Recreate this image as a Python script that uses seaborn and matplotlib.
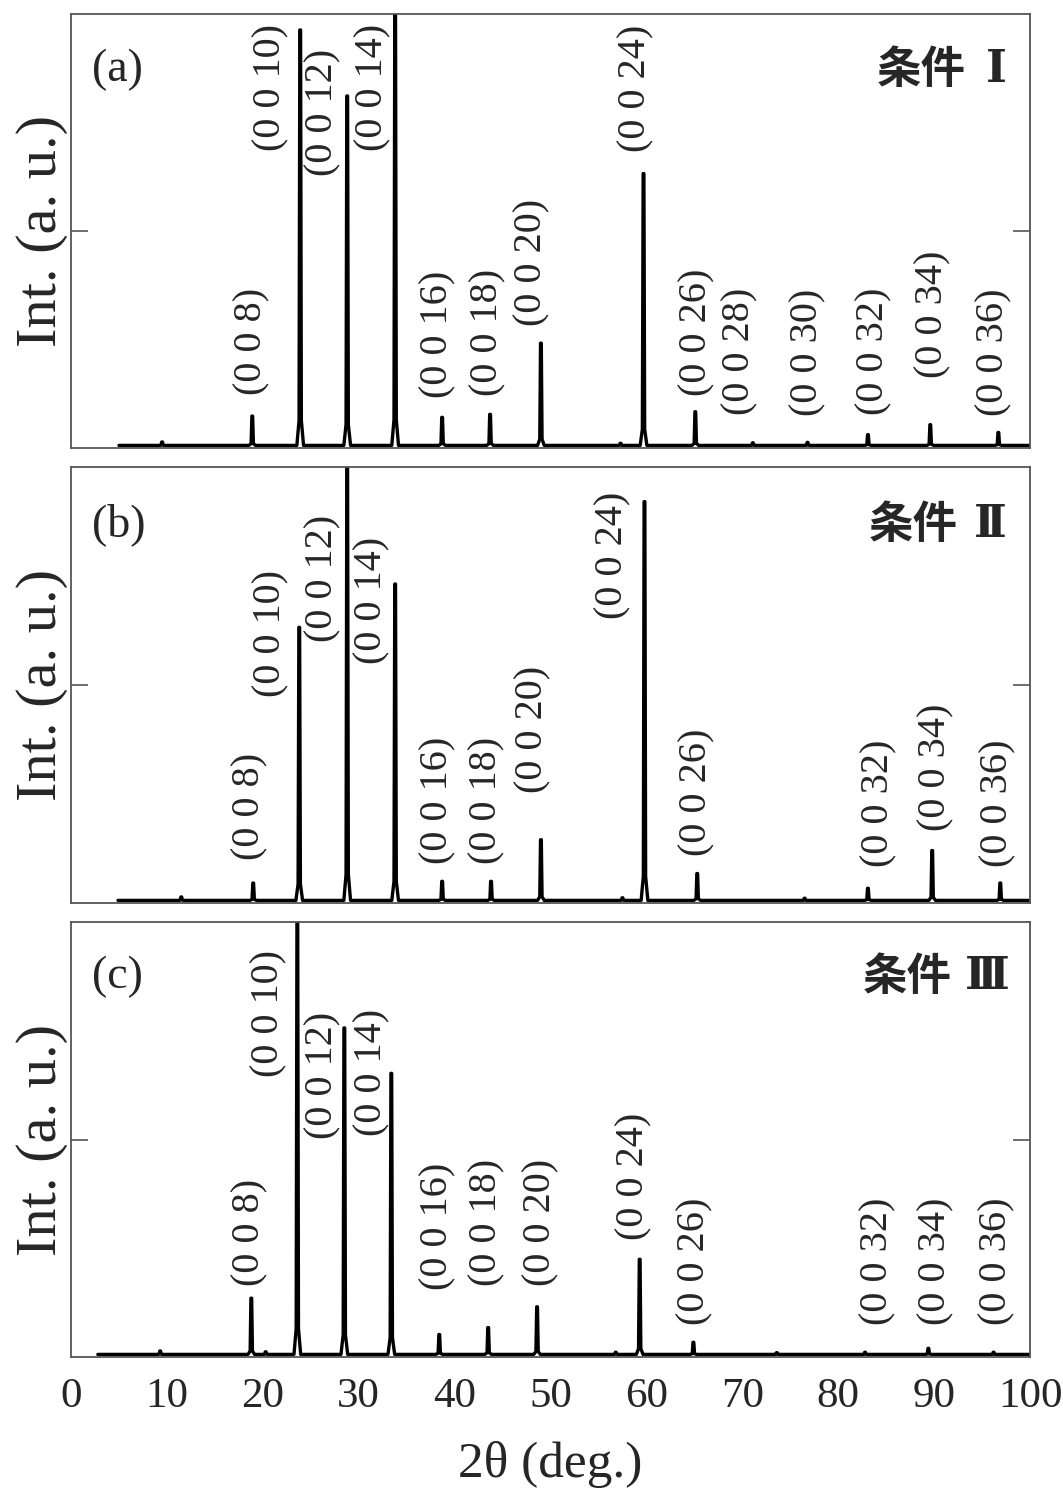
import numpy as np
import pandas as pd
import matplotlib
matplotlib.use("Agg")
import matplotlib.pyplot as plt
import seaborn as sns

# ---------------- data ----------------
x_ticks = [0, 10, 20, 30, 40, 50, 60, 70, 80, 90, 100]

# panel (a) condition I
hkl_a = ["(0 0 8)", "(0 0 10)", "(0 0 12)", "(0 0 14)", "(0 0 16)", "(0 0 18)", "(0 0 20)",
         "(0 0 24)", "(0 0 26)", "(0 0 28)", "(0 0 30)", "(0 0 32)", "(0 0 34)", "(0 0 36)"]
pos_a = [18.9, 23.9, 28.8, 33.8, 38.7, 43.7, 49.0, 59.7, 65.1, 71.1, 76.8, 83.1, 89.6, 96.7]
int_a = [0.068, 0.963, 0.81, 1.0, 0.065, 0.072, 0.237, 0.63, 0.078, 0.006, 0.007, 0.025, 0.048, 0.03]
minor_pos_a = [9.5, 57.3]
minor_int_a = [0.008, 0.005]
lab_x_a = [18.9, 20.8, 26.3, 31.5, 38.3, 43.5, 48.1, 58.9, 65.3, 69.8, 76.8, 83.7, 89.9, 96.2]
lab_y_a = [0.118, 0.682, 0.624, 0.682, 0.111, 0.115, 0.276, 0.680, 0.115, 0.071, 0.069, 0.071, 0.157, 0.069]

# panel (b) condition II
hkl_b = ["(0 0 8)", "(0 0 10)", "(0 0 12)", "(0 0 14)", "(0 0 16)", "(0 0 18)", "(0 0 20)",
         "(0 0 24)", "(0 0 26)", "(0 0 32)", "(0 0 34)", "(0 0 36)"]
pos_b = [19.0, 23.8, 28.8, 33.8, 38.7, 43.8, 49.0, 59.8, 65.3, 83.1, 89.8, 96.9]
int_b = [0.04, 0.63, 1.0, 0.73, 0.044, 0.044, 0.14, 0.92, 0.062, 0.028, 0.115, 0.04]
minor_pos_b = [11.5, 57.5, 76.5]
minor_int_b = [0.008, 0.006, 0.005]
lab_x_b = [18.7, 20.8, 26.3, 31.4, 38.3, 43.4, 48.2, 56.5, 65.3, 84.2, 90.2, 96.7]
lab_y_b = [0.094, 0.47, 0.596, 0.546, 0.083, 0.083, 0.248, 0.649, 0.103, 0.076, 0.16, 0.076]

# panel (c) condition III
hkl_c = ["(0 0 8)", "(0 0 10)", "(0 0 12)", "(0 0 14)", "(0 0 16)", "(0 0 18)", "(0 0 20)",
         "(0 0 24)", "(0 0 26)", "(0 0 32)", "(0 0 34)", "(0 0 36)"]
pos_c = [18.8, 23.6, 28.5, 33.4, 38.4, 43.5, 48.6, 59.3, 64.9, 82.8, 89.4, 96.2]
int_c = [0.13, 1.0, 0.755, 0.65, 0.046, 0.062, 0.11, 0.22, 0.028, 0.005, 0.014, 0.005]
minor_pos_c = [9.3, 20.3, 56.8, 73.6]
minor_int_c = [0.008, 0.006, 0.005, 0.004]
lab_x_c = [18.7, 20.6, 26.3, 31.4, 38.3, 43.4, 49.0, 58.7, 65.1, 84.1, 90.2, 96.5]
lab_y_c = [0.159, 0.641, 0.499, 0.506, 0.149, 0.159, 0.159, 0.264, 0.069, 0.067, 0.067, 0.069]

panel_tags = ["(a)", "(b)", "(c)"]
cond_text = ["条件", "条件", "条件"]
cond_num = ["Ⅰ", "Ⅱ", "Ⅲ"]
scan_start = [5.0, 4.9, 2.8]

# ---------------- style ----------------
sns.set_theme(style="white")
plt.rcParams["font.family"] = ["Liberation Serif", "DejaVu Serif"]
plt.rcParams["mathtext.fontset"] = "stix"

SHAPE_DX = [-0.35, -0.12, -0.04, 0.04, 0.12, 0.35]
SHAPE_FR = [0.0, 0.06, 1.0, 1.0, 0.06, 0.0]


def profile(start, pos, inten, mpos, mint):
    pk = sorted(list(zip(pos, inten)) + list(zip(mpos, mint)))
    xs, ys = [start], [0.0]
    for p, h in pk:
        for dx, fr in zip(SHAPE_DX, SHAPE_FR):
            xs.append(p + dx)
            ys.append(h * fr)
    xs.append(100.0)
    ys.append(0.0)
    return pd.DataFrame({"x": xs, "y": ys})


panels = [
    (hkl_a, pos_a, int_a, minor_pos_a, minor_int_a, lab_x_a, lab_y_a),
    (hkl_b, pos_b, int_b, minor_pos_b, minor_int_b, lab_x_b, lab_y_b),
    (hkl_c, pos_c, int_c, minor_pos_c, minor_int_c, lab_x_c, lab_y_c),
]

W, H = 1063, 1490
fig = plt.figure(figsize=(W / 100, H / 100), dpi=100)
frames = [(448, 434), (903, 436), (1357, 435)]
left_px, right_px = 71, 1030
num_left = [0.954, 0.941, 0.932]
txt_right = [0.933, 0.925, 0.918]
title_y = [0.871, 0.867, 0.874]

YMIN = -0.006
for i, (hkl, pos, inten, mpos, mint, lx, ly) in enumerate(panels):
    bot, hgt = frames[i]
    ax = fig.add_axes([left_px / W, (H - bot) / H, (right_px - left_px) / W, hgt / H])
    df = profile(scan_start[i], pos, inten, mpos, mint)
    sns.lineplot(data=df, x="x", y="y", ax=ax, sort=False, estimator=None,
                 color="black", linewidth=2.4)
    ax.set_xlim(0, 100)
    ax.set_ylim(YMIN, 1.0)
    for sp in ax.spines.values():
        sp.set_color("#555555")
        sp.set_linewidth(1.3)
    ax.set_yticks([(YMIN + 1.0) / 2])
    ax.tick_params(axis="y", direction="in", length=12, width=1.2, color="#555555",
                   left=True, right=True, labelleft=False, labelright=False)
    ax.set_xticks(x_ticks)
    ax.tick_params(axis="x", length=0, labelsize=31, pad=15,
                   labelbottom=(i == 2))
    ax.set_ylabel("Int. (a. u.)", fontsize=42, labelpad=2)
    if i == 2:
        ax.set_xlabel("2θ (deg.)", fontsize=37, labelpad=18)
    else:
        ax.set_xlabel("")
    for t, x, y in zip(hkl, lx, ly):
        ax.text(x, y, t, rotation=90, ha="center", va="bottom", fontsize=29)
    ax.text(0.022, title_y[i], panel_tags[i], transform=ax.transAxes,
            ha="left", va="center", fontsize=33)
    ax.text(txt_right[i], title_y[i], cond_text[i], transform=ax.transAxes,
            ha="right", va="center", fontsize=32, fontweight="bold",
            family=["Noto Sans CJK JP"])
    ax.text(num_left[i], title_y[i], cond_num[i], transform=ax.transAxes,
            ha="left", va="center", fontsize=32, fontweight="bold",
            family=["DejaVu Serif", "Noto Sans CJK JP"])

fig.savefig("out.png", dpi=100, facecolor="white")
